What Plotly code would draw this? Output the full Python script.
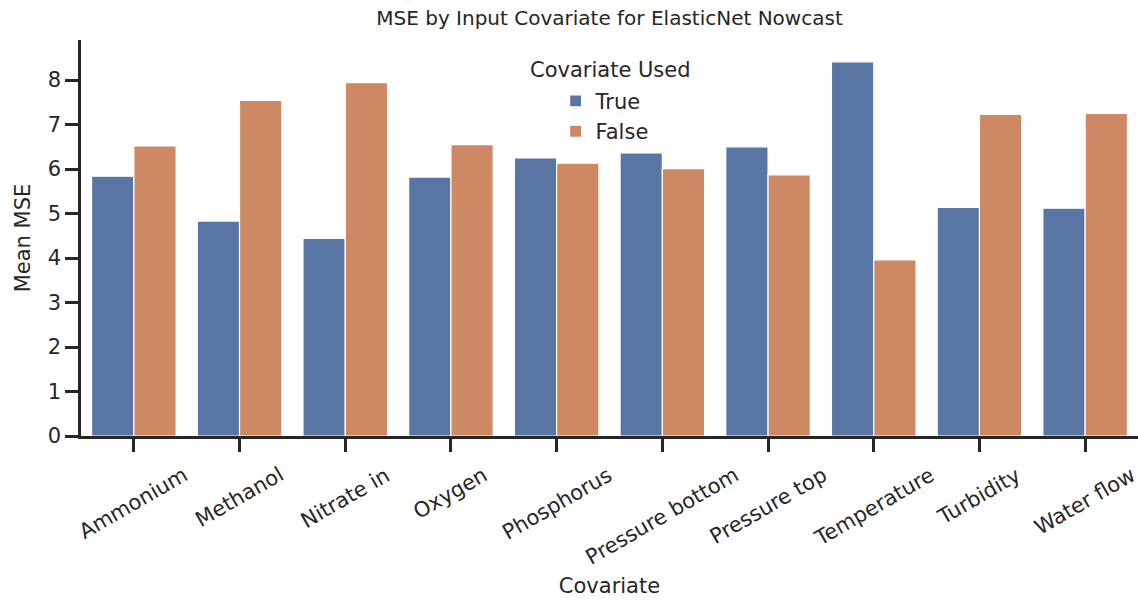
import plotly.graph_objects as go

categories = ["Ammonium", "Methanol", "Nitrate in", "Oxygen", "Phosphorus",
              "Pressure bottom", "Pressure top", "Temperature", "Turbidity", "Water flow"]
mse_true = [5.84, 4.83, 4.44, 5.82, 6.25, 6.36, 6.50, 8.41, 5.14, 5.12]
mse_false = [6.52, 7.54, 7.94, 6.55, 6.13, 6.01, 5.87, 3.96, 7.23, 7.25]
y_ticks = [0, 1, 2, 3, 4, 5, 6, 7, 8]

FONT = "DejaVu Sans"
INK = "#262626"
FS = 21
W, H = 1138, 601

fig = go.Figure()
fig.add_trace(go.Bar(x=categories, y=mse_true, name="True",
                     marker=dict(color="#5975A4", line=dict(color="white", width=1.2))))
fig.add_trace(go.Bar(x=categories, y=mse_false, name="False",
                     marker=dict(color="#CC8963", line=dict(color="white", width=1.2))))

for c in categories:
    fig.add_annotation(x=c, y=0, xref="x", yref="y", yshift=-24, text=c, textangle=-30,
                       showarrow=False, xanchor="center", yanchor="top",
                       font=dict(family=FONT, size=FS, color=INK))

# legend title
fig.add_annotation(x=0.5005, y=0.924, xref="paper", yref="paper", text="Covariate Used",
                   showarrow=False, xanchor="center", yanchor="middle",
                   font=dict(family=FONT, size=FS, color=INK))

fig.update_layout(
    width=W, height=H,
    margin=dict(l=81, r=0, t=40, b=165),
    paper_bgcolor="white", plot_bgcolor="white",
    barmode="group", bargap=0.2, bargroupgap=0,
    font=dict(family=FONT, size=FS, color=INK),
    title=dict(text="MSE by Input Covariate for ElasticNet Nowcast", x=0.5, xref="paper",
               y=1 - 18 / H, yanchor="middle", font=dict(family=FONT, size=20, color=INK)),
    legend=dict(x=0.449, xanchor="left", y=0.897, yanchor="top",
                bgcolor="rgba(255,255,255,0)", font=dict(size=FS)),
    xaxis=dict(showline=True, linecolor=INK, linewidth=2.5, ticks="outside", ticklen=13,
               tickwidth=2.5, tickcolor=INK, showticklabels=False, showgrid=False,
               range=[-0.5, 9.5],
               title=dict(text="Covariate", font=dict(size=FS))),
    yaxis=dict(showline=True, linecolor=INK, linewidth=2.5, ticks="outside", ticklen=13,
               tickwidth=2.5, tickcolor=INK, showgrid=False, zeroline=False,
               range=[0, 8.9], tickvals=y_ticks, tickfont=dict(size=FS),
               title=dict(text="Mean MSE", font=dict(size=FS), standoff=12)),
)
fig.update_xaxes(title_standoff=128)
fig.write_html("out.html", config={"displayModeBar": False},
               post_script="document.body.style.margin='0';document.body.style.overflow='hidden';")
